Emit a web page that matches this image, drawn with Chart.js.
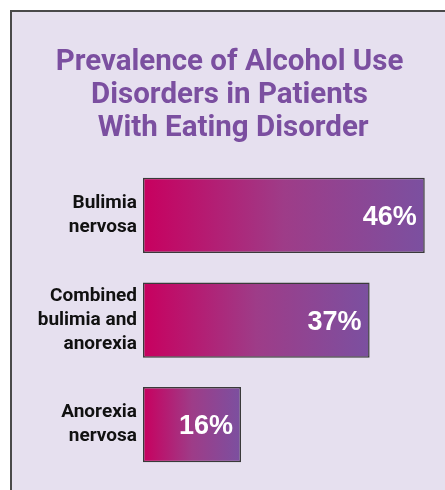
<!DOCTYPE html>
<html>
<head>
<meta charset="utf-8">
<script src="https://cdn.jsdelivr.net/npm/chart.js@4"></script>
<style>
  html, body { margin: 0; padding: 0; background: #ffffff; }
  #frame {
    position: absolute; left: 10px; top: 10px; width: 480px; height: 500px;
    background: #e6e0ef; border-left: 2px solid #4a4a4a; border-top: 2px solid #4a4a4a;
  }
  #wrap { position: absolute; left: 0; top: 0; width: 445px; height: 490px; }
</style>
</head>
<body>
<div id="frame"></div>
<div id="wrap"><canvas id="chart"></canvas></div>
<script>
// chart data
const categories = [['Bulimia', 'nervosa'], ['Combined', 'bulimia and', 'anorexia'], ['Anorexia', 'nervosa']];
const prevalence = [46, 37, 16];
const titleLines = ['Prevalence of Alcohol Use', 'Disorders in Patients', ' With Eating Disorder'];

const sans = 'Roboto, "Liberation Sans", sans-serif';

// white percentage labels inside the bar ends
const valueLabels = {
    id: 'valueLabels',
    afterDatasetsDraw(chart) {
        const ctx = chart.ctx;
        const meta = chart.getDatasetMeta(0);
        ctx.save();
        ctx.fillStyle = '#ffffff';
        ctx.font = 'bold 27px "Liberation Sans", Arial, sans-serif';
        ctx.textAlign = 'right';
        ctx.textBaseline = 'middle';
        meta.data.forEach((bar, i) => {
            ctx.fillText(prevalence[i] + '%', bar.x - 8, bar.y + 2);
        });
        ctx.restore();
    }
};

function barGradient(context) {
    const chart = context.chart;
    if (!chart.chartArea || context.type !== 'data') return '#7b50a0';
    const x = chart.scales.x;
    const g = chart.ctx.createLinearGradient(x.getPixelForValue(0), 0, x.getPixelForValue(context.raw), 0);
    g.addColorStop(0, '#c8005f');
    g.addColorStop(0.5, '#9e3c88');
    g.addColorStop(1, '#7b50a0');
    return g;
}

new Chart(document.getElementById('chart'), {
    type: 'bar',
    data: {
        labels: categories,
        datasets: [{
            data: prevalence,
            backgroundColor: barGradient,
            borderColor: '#3a3a3a',
            borderWidth: 1.5,
            borderSkipped: false,
            categoryPercentage: 1,
            barPercentage: 0.72
        }]
    },
    plugins: [valueLabels],
    options: {
        indexAxis: 'y',
        responsive: true,
        maintainAspectRatio: false,
        animation: false,
        layout: { padding: { left: 22, right: 8, top: 0, bottom: 13 } },
        plugins: {
            legend: { display: false },
            tooltip: { enabled: false },
            title: {
                display: true,
                text: titleLines,
                color: '#7b4fa0',
                font: { family: sans, size: 29.5, weight: 'bold', lineHeight: 1.12 },
                padding: { top: 46, bottom: 18 }
            }
        },
        scales: {
            x: {
                min: 0,
                max: 48,
                display: false
            },
            y: {
                grid: { display: false, drawTicks: false },
                border: { display: false },
                afterFit(scale) {
                    scale.width = 121;
                    scale.paddingTop = 0;
                    scale.paddingBottom = 0;
                },
                ticks: {
                    color: '#111111',
                    padding: 6,
                    font: { family: sans, size: 19, weight: 'bold', lineHeight: 1.26 }
                }
            }
        }
    }
});
</script>
</body>
</html>
